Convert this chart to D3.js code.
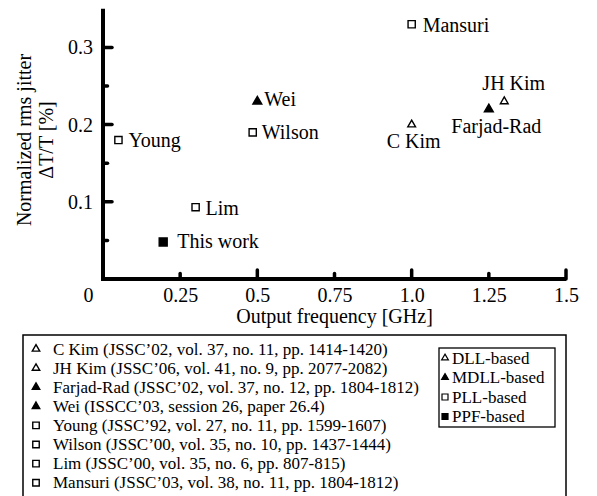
<!DOCTYPE html>
<html><head><meta charset="utf-8">
<script src="https://cdn.jsdelivr.net/npm/d3@7"></script>
<style>
body{margin:0;background:#fff}svg{display:block}
svg text{font-family:"Liberation Serif","Times New Roman","DejaVu Serif",serif;fill:#000}
</style>
</head><body>
<svg id="c" width="597" height="496"></svg>
<script>
// ---- data ----
const names = ["C Kim","JH Kim","Farjad-Rad","Wei","Young","Wilson","Lim","Mansuri","This work"];
const types = ["DLL","DLL","MDLL","MDLL","PLL","PLL","PLL","PLL","PPF"];
const freqGHz = [1.0, 1.30, 1.25, 0.50, 0.05, 0.485, 0.30, 1.0, 0.195];
const jitterPct = [0.20, 0.23, 0.22, 0.23, 0.18, 0.19, 0.093, 0.33, 0.048];
const refs = [
  "C Kim (JSSC\u201902, vol. 37, no. 11, pp. 1414-1420)",
  "JH Kim (JSSC\u201906, vol. 41, no. 9, pp. 2077-2082)",
  "Farjad-Rad (JSSC\u201902, vol. 37, no. 12, pp. 1804-1812)",
  "Wei (ISSCC\u201903, session 26, paper 26.4)",
  "Young (JSSC\u201992, vol. 27, no. 11, pp. 1599-1607)",
  "Wilson (JSSC\u201900, vol. 35, no. 10, pp. 1437-1444)",
  "Lim (JSSC\u201900, vol. 35, no. 6, pp. 807-815)",
  "Mansuri (JSSC\u201903, vol. 38, no. 11, pp. 1804-1812)"
];
const refTypes = ["DLL","DLL","MDLL","MDLL","PLL","PLL","PLL","PLL"];
const typeKeys = ["DLL","MDLL","PLL","PPF"];
const typeLabels = ["DLL-based","MDLL-based","PLL-based","PPF-based"];
const xMajor = [0.5, 1.0, 1.5];
const xMinor = [0.25, 0.75, 1.25];
const xTickLabels = [0, 0.25, 0.5, 0.75, 1.0, 1.25, 1.5];
const yMajor = [0.1, 0.2, 0.3];
const yMinor = [0.05, 0.15, 0.25];
const xTitle = "Output frequency [GHz]";
const yTitle = ["Normalized rms jitter", "\u0394T/T [%]"];

// ---- layout / style (not data) ----
const labelPos = { // dx, dy, anchor
  "C Kim":[2,23,"middle"], "JH Kim":[9.5,-11,"middle"], "Farjad-Rad":[7.5,24,"middle"],
  "Wei":[7,5,"start"], "Young":[10,7,"start"], "Wilson":[9,7,"start"],
  "Lim":[10,8,"start"], "Mansuri":[11,8,"start"], "This work":[14,6,"start"]
};
const markerStyle = {
  DLL:{shape:d3.symbolTriangle, size:26, fill:"#fff"},
  MDLL:{shape:d3.symbolTriangle, size:34, fill:"#000"},
  PLL:{shape:d3.symbolSquare, size:52, fill:"#fff"},
  PPF:{shape:d3.symbolSquare, size:64, fill:"#000"}
};

const svg = d3.select("#c");
const x = d3.scaleLinear().domain([0,1.5]).range([103,566]);
const y = d3.scaleLinear().domain([0,0.35]).range([279,8.8]);

// axes lines
svg.append("path")
  .attr("d", `M${x(0)},${y(0.35)}V${y(0)}H${x(1.5)}`)
  .attr("fill","none").attr("stroke","#000").attr("stroke-width",4);

// ticks
const tk = svg.append("g").attr("stroke","#000").attr("stroke-width",3.5).attr("stroke-linecap","round");
tk.selectAll(".xM").data(xMajor).join("line").attr("class","xM").attr("x1",d=>x(d)).attr("x2",d=>x(d)).attr("y1",y(0)).attr("y2",y(0)-9);
tk.selectAll(".xm").data(xMinor).join("line").attr("class","xm").attr("x1",d=>x(d)).attr("x2",d=>x(d)).attr("y1",y(0)).attr("y2",y(0)-5.5);
tk.selectAll(".yM").data(yMajor).join("line").attr("class","yM").attr("y1",d=>y(d)).attr("y2",d=>y(d)).attr("x1",x(0)).attr("x2",x(0)+9);
tk.selectAll(".ym").data(yMinor).join("line").attr("class","ym").attr("y1",d=>y(d)).attr("y2",d=>y(d)).attr("x1",x(0)).attr("x2",x(0)+4.5);

// tick labels via d3 axes
const fmtX = d=> d===0 ? "0" : (d===1 ? "1.0" : String(d));
const gx = svg.append("g").attr("transform",`translate(0,${y(0)})`)
  .call(d3.axisBottom(x).tickValues(xTickLabels).tickSize(0).tickPadding(9).tickFormat(fmtX));
gx.select(".domain").remove();
gx.attr("font-family",null);
gx.selectAll("text").attr("font-size",20).attr("fill","#000")
  .attr("dx", d=> d===0 ? -15 : 0);

const gy = svg.append("g").attr("transform",`translate(${x(0)},0)`)
  .call(d3.axisLeft(y).tickValues(yMajor).tickSize(0).tickPadding(10).tickFormat(d3.format(".1f")));
gy.select(".domain").remove();
gy.attr("font-family",null);
gy.selectAll("text").attr("font-size",20).attr("fill","#000");

// axis titles
svg.append("text").attr("x",(x(0)+x(1.5))/2).attr("y",323).attr("text-anchor","middle")
  .attr("font-size",20).text(xTitle);
yTitle.forEach((t,i)=>{
  svg.append("text").attr("transform",`translate(${31+i*22},140) rotate(-90)`)
    .attr("text-anchor","middle").attr("font-size",20).text(t);
});

// points
const pts = names.map((n,i)=>({n, t:types[i], fx:freqGHz[i], j:jitterPct[i]}));
const gp = svg.append("g");
gp.selectAll("path").data(pts).join("path")
  .attr("transform",d=>`translate(${x(d.fx)},${y(d.j)})`)
  .attr("d",d=>d3.symbol(markerStyle[d.t].shape, markerStyle[d.t].size)())
  .attr("fill",d=>markerStyle[d.t].fill).attr("stroke","#000").attr("stroke-width",1.4);
gp.selectAll("text").data(pts).join("text")
  .attr("x",d=>x(d.fx)+labelPos[d.n][0]).attr("y",d=>y(d.j)+labelPos[d.n][1])
  .attr("text-anchor",d=>labelPos[d.n][2])
  .attr("font-size",20).text(d=>d.n);

// legend
svg.append("rect").attr("x",23).attr("y",335).attr("width",543).attr("height",180)
  .attr("fill","none").attr("stroke","#000").attr("stroke-width",1.5);
const lg = svg.append("g");
refs.forEach((r,i)=>{
  const cy = 349 + i*19.1;
  const st = markerStyle[refTypes[i]];
  lg.append("path").attr("transform",`translate(36,${cy})`)
    .attr("d",d3.symbol(st.shape, st.shape===d3.symbolSquare?42:24)())
    .attr("fill",st.fill).attr("stroke","#000").attr("stroke-width",1.4);
  lg.append("text").attr("x",53).attr("y",cy+5.5).attr("font-size",17).text(r);
});
svg.append("rect").attr("x",439).attr("y",348).attr("width",116).attr("height",79)
  .attr("fill","none").attr("stroke","#000").attr("stroke-width",1.3);
typeKeys.forEach((k,i)=>{
  const cy = 358 + i*19.5;
  const st = markerStyle[k];
  svg.append("path").attr("transform",`translate(445,${cy})`)
    .attr("d",d3.symbol(st.shape, st.shape===d3.symbolSquare?36:20)())
    .attr("fill",st.fill).attr("stroke","#000").attr("stroke-width",1.2);
  svg.append("text").attr("x",452).attr("y",cy+5.5).attr("font-size",17).text(typeLabels[i]);
});
</script>
</body></html>
